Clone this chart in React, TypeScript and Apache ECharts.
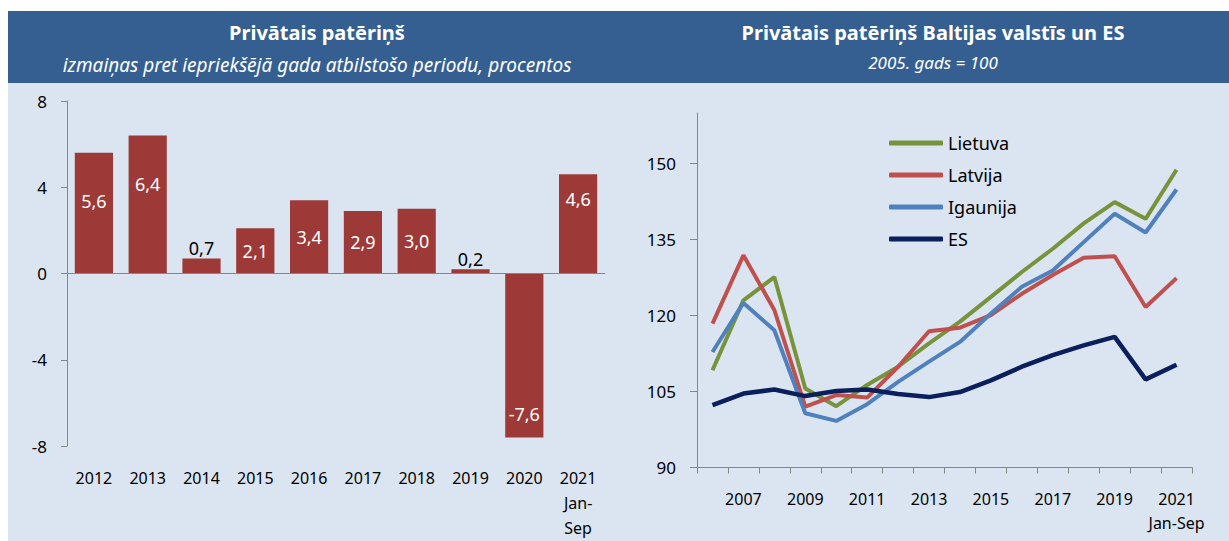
import React, { useEffect, useRef } from "react";
import * as echarts from "echarts";

// Left chart: Private consumption, % change
const barCategories = ["2012", "2013", "2014", "2015", "2016", "2017", "2018", "2019", "2020", "2021\nJan-\nSep"];
const barValues = [5.6, 6.4, 0.7, 2.1, 3.4, 2.9, 3.0, 0.2, -7.6, 4.6];
const barTicks = [-8, -4, 0, 4, 8];

// Right chart: index 2005 = 100
const lineCategories = ["2006", "2007", "2008", "2009", "2010", "2011", "2012", "2013", "2014", "2015", "2016", "2017", "2018", "2019", "2020", "2021\nJan-Sep"];
const lietuva = [109.2, 123.0, 127.6, 105.6, 102.1, 106.3, 109.9, 114.5, 118.8, 123.7, 128.6, 133.2, 138.2, 142.4, 139.1, 148.8];
const latvija = [118.4, 131.9, 121.1, 102.0, 104.3, 103.8, 109.9, 116.9, 117.6, 120.1, 124.3, 128.0, 131.4, 131.7, 121.7, 127.4];
const igaunija = [112.8, 122.5, 117.1, 100.7, 99.2, 102.5, 106.9, 110.9, 114.8, 120.4, 125.7, 128.9, 134.5, 140.1, 136.4, 144.9];
const es = [102.3, 104.6, 105.4, 104.1, 105.1, 105.4, 104.5, 103.9, 104.9, 107.2, 109.9, 112.2, 114.1, 115.8, 107.4, 110.3];
const lineTicks = [90, 105, 120, 135, 150];

const FONT = "Noto Sans";
const AXIS_COLOR = "#868686";

function fmt(v: number) {
  return v.toFixed(1).replace(".", ",");
}

function barLabel(v: number) {
  if (v < 0) {
    return { show: true, position: "insideBottom", distance: 14, color: "#fff" };
  }
  if (v < 1) {
    return { show: true, position: "top", distance: 1, color: "#000" };
  }
  if (v >= 5) {
    return { show: true, position: "insideTop", distance: 39, color: "#fff" };
  }
  if (v >= 4) {
    return { show: true, position: "insideTop", distance: 16, color: "#fff" };
  }
  return { show: true, position: "inside", color: "#fff" };
}

export default function App() {
  const ref = useRef<HTMLDivElement>(null);
  useEffect(() => {
    if (!ref.current) return;
    const chart = echarts.init(ref.current, undefined, { renderer: "svg" });
    const option: any = {
      animation: false,
      backgroundColor: "#ffffff",
      textStyle: { fontFamily: FONT },
      graphic: [
        { type: "rect", z: -10, shape: { x: 8, y: 11, width: 1221, height: 72 }, style: { fill: "#365F91" } },
        { type: "rect", z: -10, shape: { x: 8, y: 83, width: 1221, height: 458 }, style: { fill: "#DBE5F1" } },
        {
          type: "text", x: 317, y: 32, z: 10,
          style: { text: "Privātais patēriņš", fill: "#fff", font: `bold 20px "${FONT}"`, align: "center", verticalAlign: "middle" },
        },
        {
          type: "text", x: 317, y: 65, z: 10,
          style: { text: "izmaiņas pret iepriekšējā gada atbilstošo periodu, procentos", fill: "#fff", font: `italic 19px "${FONT}"`, align: "center", verticalAlign: "middle" },
        },
        {
          type: "text", x: 933, y: 32, z: 10,
          style: { text: "Privātais patēriņš Baltijas valstīs un ES", fill: "#fff", font: `bold 20px "${FONT}"`, align: "center", verticalAlign: "middle" },
        },
        {
          type: "text", x: 933, y: 62, z: 10,
          style: { text: "2005. gads = 100", fill: "#fff", font: `italic 17px "${FONT}"`, align: "center", verticalAlign: "middle" },
        },
      ],
      grid: [
        { left: 67, right: 624, top: 101, bottom: 95 },
        { left: 697, right: 37, top: 113, bottom: 73.5 },
      ],
      legend: {
        left: 889,
        top: 134,
        padding: 0,
        orient: "vertical",
        icon: "roundRect",
        itemWidth: 54,
        itemHeight: 5,
        itemGap: 14,
        data: ["Lietuva", "Latvija", "Igaunija", "ES"],
        textStyle: { fontFamily: FONT, fontSize: 18, lineHeight: 18, color: "#000" },
      },
      xAxis: [
        {
          type: "category",
          gridIndex: 0,
          data: barCategories,
          axisLine: { show: false },
          axisTick: { show: false },
          axisLabel: { color: "#000", fontSize: 16, lineHeight: 25, margin: 19, interval: 0, fontFamily: FONT },
        },
        {
          type: "category",
          gridIndex: 1,
          data: lineCategories,
          boundaryGap: true,
          axisLine: { show: true, lineStyle: { color: AXIS_COLOR, width: 1 } },
          axisTick: { show: true, interval: 0, length: 6, lineStyle: { color: AXIS_COLOR } },
          axisLabel: {
            color: "#000", fontSize: 16, lineHeight: 24, margin: 19, fontFamily: FONT,
            interval: (i: number) => i % 2 === 1,
          },
        },
      ],
      yAxis: [
        {
          type: "value",
          gridIndex: 0,
          min: -8,
          max: 8,
          interval: 4,
          splitLine: { show: false },
          axisLine: { show: true, lineStyle: { color: AXIS_COLOR } },
          axisTick: { show: true, length: 6, lineStyle: { color: AXIS_COLOR } },
          axisLabel: { color: "#000", fontSize: 17, margin: 20, fontFamily: FONT, customValues: barTicks },
        },
        {
          type: "value",
          gridIndex: 1,
          min: 90,
          max: 160,
          interval: 15,
          splitLine: { show: false },
          axisLine: { show: true, lineStyle: { color: AXIS_COLOR } },
          axisTick: { show: true, length: 7, lineStyle: { color: AXIS_COLOR }, customValues: lineTicks },
          axisLabel: { color: "#000", fontSize: 17, margin: 21, fontFamily: FONT, customValues: lineTicks },
        },
      ],
      series: [
        {
          type: "bar",
          xAxisIndex: 0,
          yAxisIndex: 0,
          barCategoryGap: "29%",
          itemStyle: { color: "#9D3A37" },
          data: barValues.map((v) => ({ value: v, label: barLabel(v) })),
          label: {
            show: true,
            fontSize: 18,
            fontFamily: FONT,
            formatter: (p: any) => fmt(p.value),
          },
          markLine: {
            silent: true,
            symbol: ["none", "none"],
            label: { show: false },
            lineStyle: { color: AXIS_COLOR, width: 1, type: "solid" },
            data: [{ yAxis: 0 }],
          },
        },
        {
          name: "Lietuva", type: "line", xAxisIndex: 1, yAxisIndex: 1, data: lietuva,
          symbol: "none", lineStyle: { color: "#77933C", width: 4 }, itemStyle: { color: "#77933C" },
        },
        {
          name: "Latvija", type: "line", xAxisIndex: 1, yAxisIndex: 1, data: latvija,
          symbol: "none", lineStyle: { color: "#C0504D", width: 4 }, itemStyle: { color: "#C0504D" },
        },
        {
          name: "Igaunija", type: "line", xAxisIndex: 1, yAxisIndex: 1, data: igaunija,
          symbol: "none", lineStyle: { color: "#4F81BD", width: 4 }, itemStyle: { color: "#4F81BD" },
        },
        {
          name: "ES", type: "line", xAxisIndex: 1, yAxisIndex: 1, data: es,
          symbol: "none", lineStyle: { color: "#0B1F5C", width: 4.5 }, itemStyle: { color: "#0B1F5C" },
        },
      ],
    };
    chart.setOption(option);
    return () => chart.dispose();
  }, []);
  return <div ref={ref} style={{ position: "absolute", left: 0, top: 0, width: 1229, height: 541 }} />;
}
